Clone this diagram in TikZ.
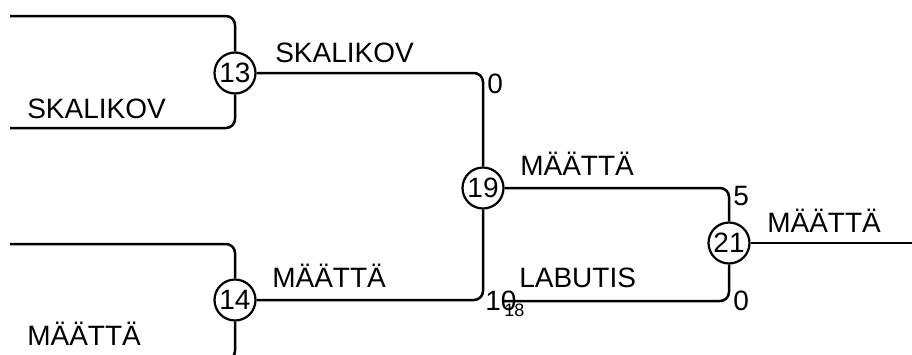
\documentclass[tikz,border=0pt]{standalone}
\usepackage{fontspec}
\setmainfont{Liberation Sans}
\begin{document}
\begin{tikzpicture}[x=1pt,y=-1pt,
  line width=2.5pt,
  seed/.style={circle,draw,line width=2.2pt,minimum size=41pt,inner sep=0pt,fill=white,font=\fontsize{28}{30}\selectfont},
  lbl/.style={anchor=base west,inner sep=0pt,font=\fontsize{28}{30}\selectfont},
  small/.style={anchor=base west,inner sep=0pt,font=\fontsize{18}{20}\selectfont},
  conn/.style={rounded corners=9pt}]
\useasboundingbox (0,0) rectangle (912,354);
\clip (0,0) rectangle (912,354);
% match nodes
\node[seed] (n13) at (235,73) {13};
\node[seed] (n14) at (235,300) {14};
\node[seed] (n19) at (483,188) {19};
\node[seed] (n21) at (729,243) {21};
% free ends
\coordinate (a1) at (10,16);
\coordinate (a2) at (10,128);
\coordinate (b1) at (10,244);
\coordinate (b2) at (10,360);
\coordinate (lab) at (503,301);
\coordinate (out) at (913,243);
% connectors
\draw[conn] (a1) -| (n13.north);
\draw[conn] (a2) -| (n13.south);
\draw[conn] (b1) -| (n14.north);
\draw[conn] (b2) -| (n14.south);
\draw[conn] (n13.east) -| (n19.north);
\draw[conn] (n19.south) |- (n14.east);
\draw[conn] (n19.east) -| (n21.north);
\draw[conn] (lab) -| (n21.south);
\draw (n21.east) -- (out);
% labels
\node[lbl] (t1) at (26,118) {SKALIKOV};
\node[lbl] (t2) at (274,62) {SKALIKOV};
\node[lbl] (t3) at (486,93) {0};
\node[lbl] (t4) at (519,175) {MÄÄTTÄ};
\node[lbl] (t5) at (732,205) {5};
\node[lbl] (t6) at (766,232) {MÄÄTTÄ};
\node[lbl] (t7) at (271,287) {MÄÄTTÄ};
\node[lbl] (t8) at (518,287) {LABUTIS};
\node[lbl] (t9) at (732,310) {0};
\node[lbl] (t10) at (484,310) {10};
\node[small] (t11) at (503,316) {18};
\node[lbl] (t12) at (26,345) {MÄÄTTÄ};
\end{tikzpicture}
\end{document}
